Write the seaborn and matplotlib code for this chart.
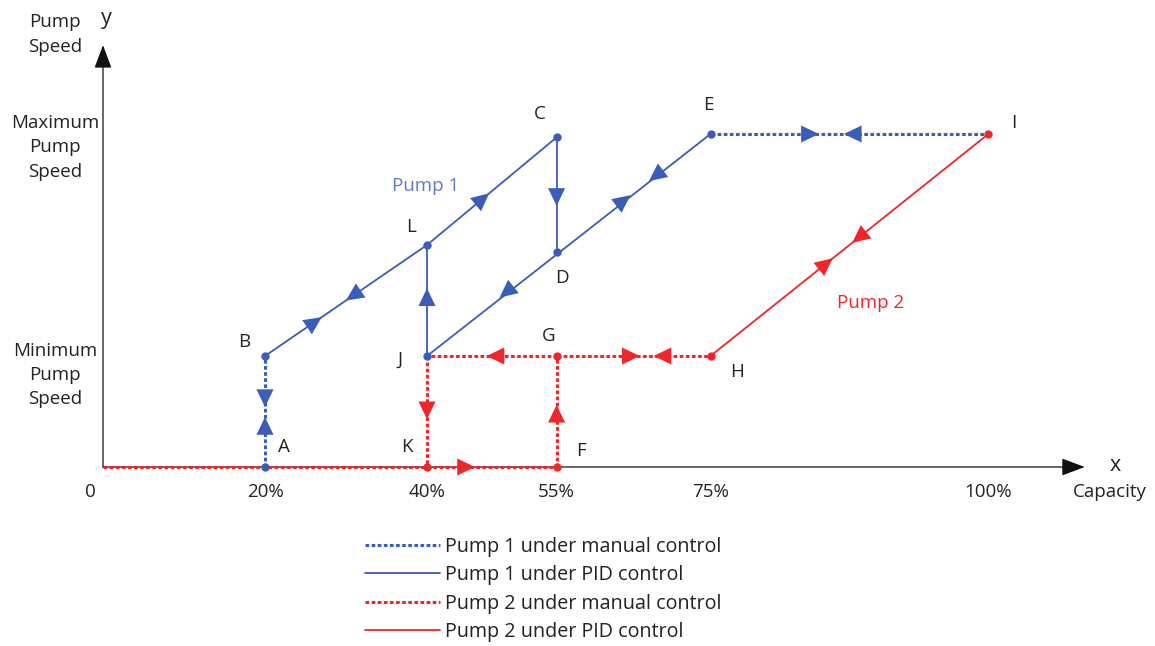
import numpy as np
import pandas as pd
import matplotlib
matplotlib.use("Agg")
import matplotlib.pyplot as plt
from matplotlib.lines import Line2D
import seaborn as sns

# Points of the diagram (capacity position, pump speed level; 1 = minimum, 3 = maximum)
point_names = ['O', 'A', 'B', 'L', 'C', 'D', 'E', 'I', 'H', 'G', 'J', 'K', 'F']
point_x = [0, 20, 20, 40, 56, 56, 75, 109.3, 75, 56, 40, 40, 56]
point_y = [0, 0, 1, 2.0, 2.97, 1.94, 3.0, 3.0, 1, 1, 1, 0, 0]

# capacity ticks (label, position)
cap_labels = ['20%', '40%', '55%', '75%', '100%']
cap_pos = [20, 40, 56, 75, 109.3]

# segments of each kind
p1_manual = [('A', 'B'), ('E', 'I')]
p1_pid = [('B', 'L'), ('L', 'C'), ('C', 'D'), ('J', 'E'), ('J', 'L')]
p2_manual = [('O', 'F'), ('F', 'G'), ('G', 'H'), ('G', 'J'), ('J', 'K')]
p2_pid = [('H', 'I')]

# direction arrows: (from, to, fraction of the way where the tip sits)
p1_arrows = [('B', 'A', 0.46), ('A', 'B', 0.45), ('B', 'L', 0.35), ('L', 'B', 0.5),
             ('L', 'C', 0.48), ('C', 'D', 0.6), ('J', 'L', 0.61), ('D', 'J', 0.44),
             ('D', 'E', 0.48), ('E', 'D', 0.4), ('E', 'I', 0.39), ('I', 'E', 0.52)]
p2_arrows = [('O', 'F', 0.82), ('F', 'G', 0.56), ('G', 'J', 0.54), ('J', 'K', 0.57),
             ('G', 'H', 0.54), ('H', 'G', 0.37), ('H', 'I', 0.44), ('I', 'H', 0.49)]

blue_pts = ['A', 'B', 'L', 'C', 'D', 'E', 'J']
red_pts = ['I', 'H', 'G', 'K', 'F']

# label offsets in pixels
label_off = {'A': (19, 20), 'B': (-21, 14), 'C': (-17, 23), 'D': (5, -26), 'E': (-2, 29),
             'I': (25, 11), 'H': (27, -16), 'G': (-8, 20), 'J': (-27, -4), 'K': (-20, 20),
             'F': (24, 16), 'L': (-16, 18)}

legend_labels = ['Pump 1 under manual control', 'Pump 1 under PID control',
                 'Pump 2 under manual control', 'Pump 2 under PID control']

BLUE = '#3b5cb8'
RED = '#f0262a'
TXT = '#222222'

pts = pd.DataFrame({'x': point_x, 'y': point_y}, index=point_names)


def seg_frame(segs):
    rows = []
    for i, (a, b) in enumerate(segs):
        rows.append({'seg': i, 'x': pts.loc[a, 'x'], 'y': pts.loc[a, 'y']})
        rows.append({'seg': i, 'x': pts.loc[b, 'x'], 'y': pts.loc[b, 'y']})
    return pd.DataFrame(rows)


def draw_arrows(ax, arrows, color):
    for a, b, t in arrows:
        x0, y0 = pts.loc[a, 'x'], pts.loc[a, 'y']
        x1, y1 = pts.loc[b, 'x'], pts.loc[b, 'y']
        tx, ty = x0 + t * (x1 - x0), y0 + t * (y1 - y0)
        ax.annotate('', xy=(tx, ty), xytext=(tx - 0.02 * (x1 - x0), ty - 0.02 * (y1 - y0)),
                    arrowprops=dict(arrowstyle='-|>,head_length=0.75,head_width=0.36',
                                    color=color, lw=0.01, shrinkA=0, shrinkB=0,
                                    mutation_scale=17), zorder=5)


sns.set_theme(style='white')
plt.rcParams['font.family'] = ['Open Sans', 'DejaVu Sans']

fig = plt.figure(figsize=(11.55, 6.46), dpi=100)
ax = fig.add_axes([0, 0, 1, 1])
# pixel layout: origin at (103, 467), 8.1 px per x unit, 111 px per y unit
ax.set_xlim((0 - 103) / 8.1, (1155 - 103) / 8.1)
ax.set_ylim((467 - 646) / 111, 467 / 111)
ax.axis('off')

# axes with arrowheads
ax.annotate('', xy=(121.2, 0), xytext=(0, 0),
            arrowprops=dict(arrowstyle='-|>,head_length=0.8,head_width=0.3', color='#111111',
                            lw=0.9, shrinkA=0, shrinkB=0, mutation_scale=18), zorder=1)
ax.annotate('', xy=(0, 3.8), xytext=(0, 0),
            arrowprops=dict(arrowstyle='-|>,head_length=0.8,head_width=0.3', color='#111111',
                            lw=0.9, shrinkA=0, shrinkB=0, mutation_scale=18), zorder=1)

manual_ls = (0, (1.2, 0.8))
sns.lineplot(data=seg_frame(p2_manual), x='x', y='y', units='seg', estimator=None, sort=False,
             color=RED, lw=2.2, linestyle=manual_ls, ax=ax, legend=False, zorder=2)
sns.lineplot(data=seg_frame(p2_pid), x='x', y='y', units='seg', estimator=None, sort=False,
             color=RED, lw=1.3, ax=ax, legend=False, zorder=2)
sns.lineplot(data=seg_frame(p1_manual), x='x', y='y', units='seg', estimator=None, sort=False,
             color=BLUE, lw=2.2, linestyle=manual_ls, ax=ax, legend=False, zorder=3)
sns.lineplot(data=seg_frame(p1_pid), x='x', y='y', units='seg', estimator=None, sort=False,
             color=BLUE, lw=1.3, ax=ax, legend=False, zorder=3)

draw_arrows(ax, p2_arrows, RED)
draw_arrows(ax, p1_arrows, BLUE)

sns.scatterplot(x=pts.loc[red_pts, 'x'], y=pts.loc[red_pts, 'y'], color=RED, s=36,
                linewidth=0, ax=ax, zorder=6)
sns.scatterplot(x=pts.loc[blue_pts, 'x'], y=pts.loc[blue_pts, 'y'], color=BLUE, s=36,
                linewidth=0, ax=ax, zorder=6)

fs = 13.5
for name, (dx, dy) in label_off.items():
    ax.annotate(name, (pts.loc[name, 'x'], pts.loc[name, 'y']), xytext=(dx, dy),
                textcoords='offset pixels', ha='center', va='center', fontsize=fs, color=TXT)

for lab, xp in zip(cap_labels, cap_pos):
    ax.text(xp, -0.225, lab, ha='center', va='center', fontsize=fs, color=TXT)
ax.text(-1.6, -0.225, '0', ha='center', va='center', fontsize=fs, color=TXT)
ax.text(125.0, 0.01, 'x', ha='center', va='center', fontsize=fs + 2, color=TXT)
ax.text(124.3, -0.225, 'Capacity', ha='center', va='center', fontsize=fs, color=TXT)
ax.text(0.4, 4.04, 'y', ha='center', va='center', fontsize=fs + 2, color=TXT)

ax.text(-5.9, 3.9, 'Pump\nSpeed', ha='center', va='center', fontsize=fs, color=TXT,
        linespacing=1.5)
ax.text(-5.9, 2.88, 'Maximum\nPump\nSpeed', ha='center', va='center', fontsize=fs, color=TXT,
        linespacing=1.45)
ax.text(-5.9, 0.83, 'Minimum\nPump\nSpeed', ha='center', va='center', fontsize=fs, color=TXT,
        linespacing=1.45)

ax.text(39.8, 2.53, 'Pump 1', ha='center', va='center', fontsize=fs, color='#5a7cc8')
ax.text(94.7, 1.48, 'Pump 2', ha='center', va='center', fontsize=fs, color=RED)

handles = [Line2D([], [], color=BLUE, lw=2.2, linestyle=manual_ls),
           Line2D([], [], color=BLUE, lw=1.3),
           Line2D([], [], color=RED, lw=2.2, linestyle=manual_ls),
           Line2D([], [], color=RED, lw=1.3)]
ax.legend(handles, legend_labels, loc='upper left', bbox_to_anchor=(365 / 1155, 1 - 537 / 646),
          frameon=False, fontsize=14.2, handlelength=3.8, handletextpad=0.27,
          labelspacing=0.42, borderpad=0, borderaxespad=0, labelcolor=TXT)

fig.savefig('out.png', dpi=100)
